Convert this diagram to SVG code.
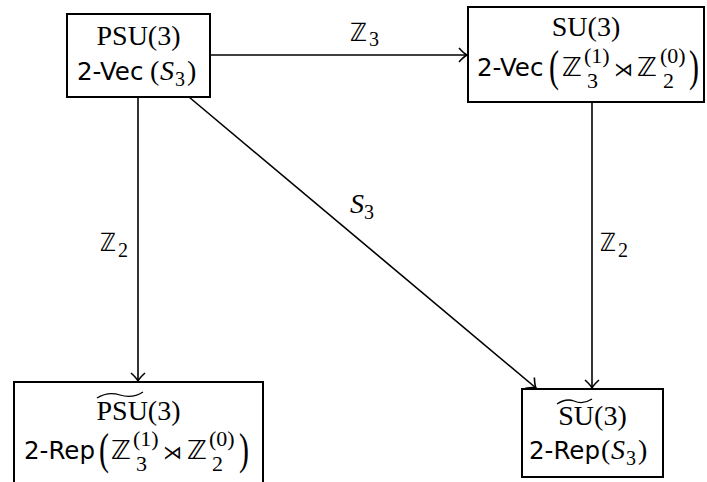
<svg xmlns="http://www.w3.org/2000/svg" width="707" height="482" viewBox="0 0 707 482">
<defs>
<style>
.box{fill:#fff;stroke:#000;stroke-width:2}
.edge{fill:none;stroke:#000;stroke-width:1.6}
.rm{font-family:"Liberation Serif","DejaVu Serif",serif;font-size:28px;fill:#000}
.it{font-family:"Liberation Serif","DejaVu Serif",serif;font-size:28px;font-style:italic;fill:#000}
.sf{font-family:"DejaVu Sans","Liberation Sans",sans-serif;font-size:24.5px;fill:#000}
.bb{font-family:"DejaVu Sans","Noto Sans",sans-serif;font-size:26px;fill:#000}
.lb{font-family:"DejaVu Sans","Noto Sans",sans-serif;font-size:25px;fill:#000}
.sub{font-family:"Liberation Serif","DejaVu Serif",serif;font-size:20px;fill:#000}
.ss{font-family:"Liberation Serif","DejaVu Serif",serif;font-size:22px;fill:#000}
.op{font-family:"DejaVu Sans",sans-serif;font-size:19px;fill:#000}
.big{font-family:"Liberation Serif","DejaVu Serif",serif;font-size:30px;fill:#000}
</style>
<marker id="arr" viewBox="-10 -8 12 16" markerWidth="12" markerHeight="16" refX="0" refY="0" orient="auto" markerUnits="userSpaceOnUse">
<path d="M -8 -7 Q -3 -1.5 0 0 Q -3 1.5 -8 7" fill="none" stroke="#000" stroke-width="1.6"/>
</marker>
</defs>
<rect width="707" height="482" fill="#fff"/>

<g id="edges">
<line class="edge" x1="210" y1="55" x2="467" y2="55" marker-end="url(#arr)"/>
<line class="edge" x1="138" y1="97" x2="138" y2="381" marker-end="url(#arr)"/>
<line class="edge" x1="592" y1="102" x2="592" y2="388" marker-end="url(#arr)"/>
<line class="edge" x1="189" y1="97" x2="536" y2="388" marker-end="url(#arr)"/>
<text class="lb" x="350" y="41" textLength="17" lengthAdjust="spacingAndGlyphs">ℤ</text><text class="sub" x="369" y="46">3</text>
<text class="lb" x="100" y="251" textLength="16" lengthAdjust="spacingAndGlyphs">ℤ</text><text class="sub" x="118" y="257">2</text>
<text class="lb" x="600" y="251" textLength="16" lengthAdjust="spacingAndGlyphs">ℤ</text><text class="sub" x="618" y="257">2</text>
<text class="it" x="350" y="213">S</text><text class="sub" x="364" y="219">3</text>
</g>

<g id="n-psu">
<rect class="box" x="67" y="14" width="143" height="83"/>
<text class="rm" x="138.5" y="45" text-anchor="middle">PSU(3)</text>
<text class="sf" x="77" y="80">2-Vec</text>
<text class="rm" x="150" y="80">(</text>
<text class="it" x="160" y="80">S</text>
<text class="sub" x="175" y="86">3</text>
<text class="rm" x="187" y="80">)</text>
</g>

<g id="n-su">
<rect class="box" x="468" y="7" width="236" height="95"/>
<text class="rm" x="586" y="36" text-anchor="middle">SU(3)</text>
<text class="sf" x="477" y="76">2-Vec</text>
<text class="big" transform="translate(549 81) scale(1 1.45)">(</text>
<text class="bb" x="562" y="76" textLength="20" lengthAdjust="spacingAndGlyphs">ℤ</text>
<text class="ss" x="584" y="63">(1)</text>
<text class="ss" x="587" y="88">3</text>
<text class="op" x="614" y="76">⋊</text>
<text class="bb" x="637" y="76" textLength="20" lengthAdjust="spacingAndGlyphs">ℤ</text>
<text class="ss" x="660" y="63">(0)</text>
<text class="ss" x="663" y="88">2</text>
<text class="big" transform="translate(689 81) scale(1 1.45)">)</text>
</g>

<g id="n-psutilde">
<rect class="box" x="14" y="382" width="249" height="110"/>
<text class="rm" x="138.5" y="420" text-anchor="middle">PSU(3)</text>
<path d="M 97 398 Q 108 391 120 395 Q 132 399 143 392" fill="none" stroke="#000" stroke-width="1.3"/>
<text class="sf" x="24" y="459">2-Rep</text>
<text class="big" transform="translate(99 464) scale(1 1.45)">(</text>
<text class="bb" x="111" y="459" textLength="20" lengthAdjust="spacingAndGlyphs">ℤ</text>
<text class="ss" x="133" y="446">(1)</text>
<text class="ss" x="136" y="471">3</text>
<text class="op" x="163" y="459">⋊</text>
<text class="bb" x="187" y="459" textLength="20" lengthAdjust="spacingAndGlyphs">ℤ</text>
<text class="ss" x="209" y="446">(0)</text>
<text class="ss" x="212" y="471">2</text>
<text class="big" transform="translate(239 464) scale(1 1.45)">)</text>
</g>

<g id="n-sutilde">
<rect class="box" x="522" y="389" width="141" height="88"/>
<text class="rm" x="592.5" y="425" text-anchor="middle">SU(3)</text>
<path d="M 557 404 Q 566 398 574 401 Q 583 405 592 399" fill="none" stroke="#000" stroke-width="1.3"/>
<text class="sf" x="529" y="459">2-Rep</text>
<text class="rm" x="601" y="459">(</text>
<text class="it" x="611" y="459">S</text>
<text class="sub" x="626" y="465">3</text>
<text class="rm" x="638" y="459">)</text>
</g>
</svg>
